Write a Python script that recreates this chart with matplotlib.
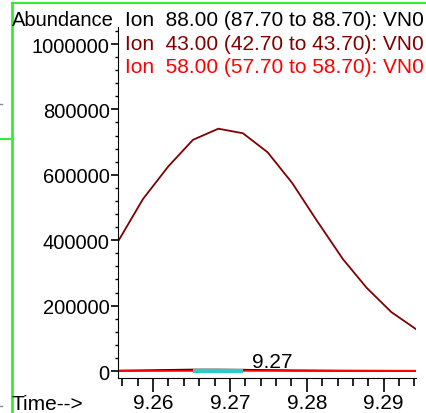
import numpy as np
import matplotlib.pyplot as plt
from matplotlib.lines import Line2D
from matplotlib.ticker import MultipleLocator

plt.rcParams['font.family'] = ['Liberation Sans', 'DejaVu Sans']

## -- data
times = [9.2555, 9.2587, 9.2620, 9.2652, 9.2685, 9.2717, 9.2749,
         9.2781, 9.2813, 9.2847, 9.2878, 9.2910, 9.2942]
abund_43 = [398000, 526000, 626000, 707000, 741000, 727000, 669000,
            575000, 460000, 342000, 254000, 180000, 128000]
abund_88 = [1000, 2000, 3500, 4500, 4500, 4000, 3000,
            2000, 1500, 1000, 800, 600, 500]
abund_58 = [500, 600, 800, 1000, 1200, 1100, 900,
            600, 500, 400, 400, 300, 300]

ion_labels = ["Ion  88.00 (87.70 to 88.70): VN0",
              "Ion  43.00 (42.70 to 43.70): VN0",
              "Ion  58.00 (57.70 to 58.70): VN0"]
ion_colors = ["black", "#800000", "#ff0000"]

peak_start, peak_end = 9.2652, 9.2717
peak_rt = "9.27"
peak_label_x = 9.2755

xticks = [9.26, 9.27, 9.28, 9.29]
yticks = [0, 200000, 400000, 600000, 800000, 1000000]

#### -----------------------------------------

W, H = 426, 414
fig = plt.figure(figsize=(W / 100, H / 100), dpi=100)
ax = fig.add_axes([118 / W, 35 / H, (416 - 118) / W, (379 - 28) / H])

ax.plot(times, abund_43, color=ion_colors[1], lw=1.3)
ax.plot(times, abund_88, color=ion_colors[0], lw=1.2)
ax.plot(times, abund_58, color=ion_colors[2], lw=1.5)

# integrated peak marker on the baseline
t = np.array(times)
m = (t >= peak_start - 1e-9) & (t <= peak_end + 1e-9)
ax.plot(t[m], [-600] * m.sum(), color="#30c8c8", lw=3, solid_capstyle="butt")

ax.text(peak_label_x, 12000, peak_rt, fontsize=15, ha="center", va="baseline")

ax.set_xlim(9.25545, 9.2942)
ax.set_ylim(-21400, 1052000)
ax.set_xticks(xticks)
ax.set_xticklabels([f"{v:.2f}" for v in xticks])
ax.xaxis.set_minor_locator(MultipleLocator(0.002))
ax.set_yticks(yticks)
ax.set_yticklabels([str(v) for v in yticks])
ax.yaxis.set_minor_locator(MultipleLocator(40000))

for s in ["top", "right"]:
    ax.spines[s].set_visible(False)
ax.tick_params(axis="x", which="major", length=10, width=1.2, labelsize=15, pad=1)
ax.tick_params(axis="x", which="minor", length=6, width=1.2)
ax.tick_params(axis="y", which="major", length=5, width=1.2, labelsize=14.5, pad=1)
ax.tick_params(axis="y", which="minor", length=2, width=1)

## -- header texts
fig.text(12 / W, 1 - 26.5 / H, "Abundance", fontsize=14.5, va="baseline", ha="left")
for lab, col, yb in zip(ion_labels, ion_colors, [26, 49.5, 73]):
    fig.text(125 / W, 1 - yb / H, lab, fontsize=15, color=col,
             va="baseline", ha="left")
fig.text(12 / W, 1 - 410 / H, "Time-->", fontsize=15, va="baseline", ha="left")

## -- green frame bits
green = "#33ee33"
fig.add_artist(Line2D([12 / W, 12 / W], [0, 1 - 4 / H], color=green, lw=2))
fig.add_artist(Line2D([12 / W, 1], [1 - 4 / H, 1 - 4 / H], color=green, lw=1.5))
fig.add_artist(Line2D([0, 10 / W], [1 - 140 / H, 1 - 140 / H], color=green, lw=1.5))
for yy in [105, 407]:
    fig.add_artist(Line2D([0, 2 / W], [1 - yy / H, 1 - yy / H], color="#888888", lw=1))

fig.savefig("out.png", dpi=100)
